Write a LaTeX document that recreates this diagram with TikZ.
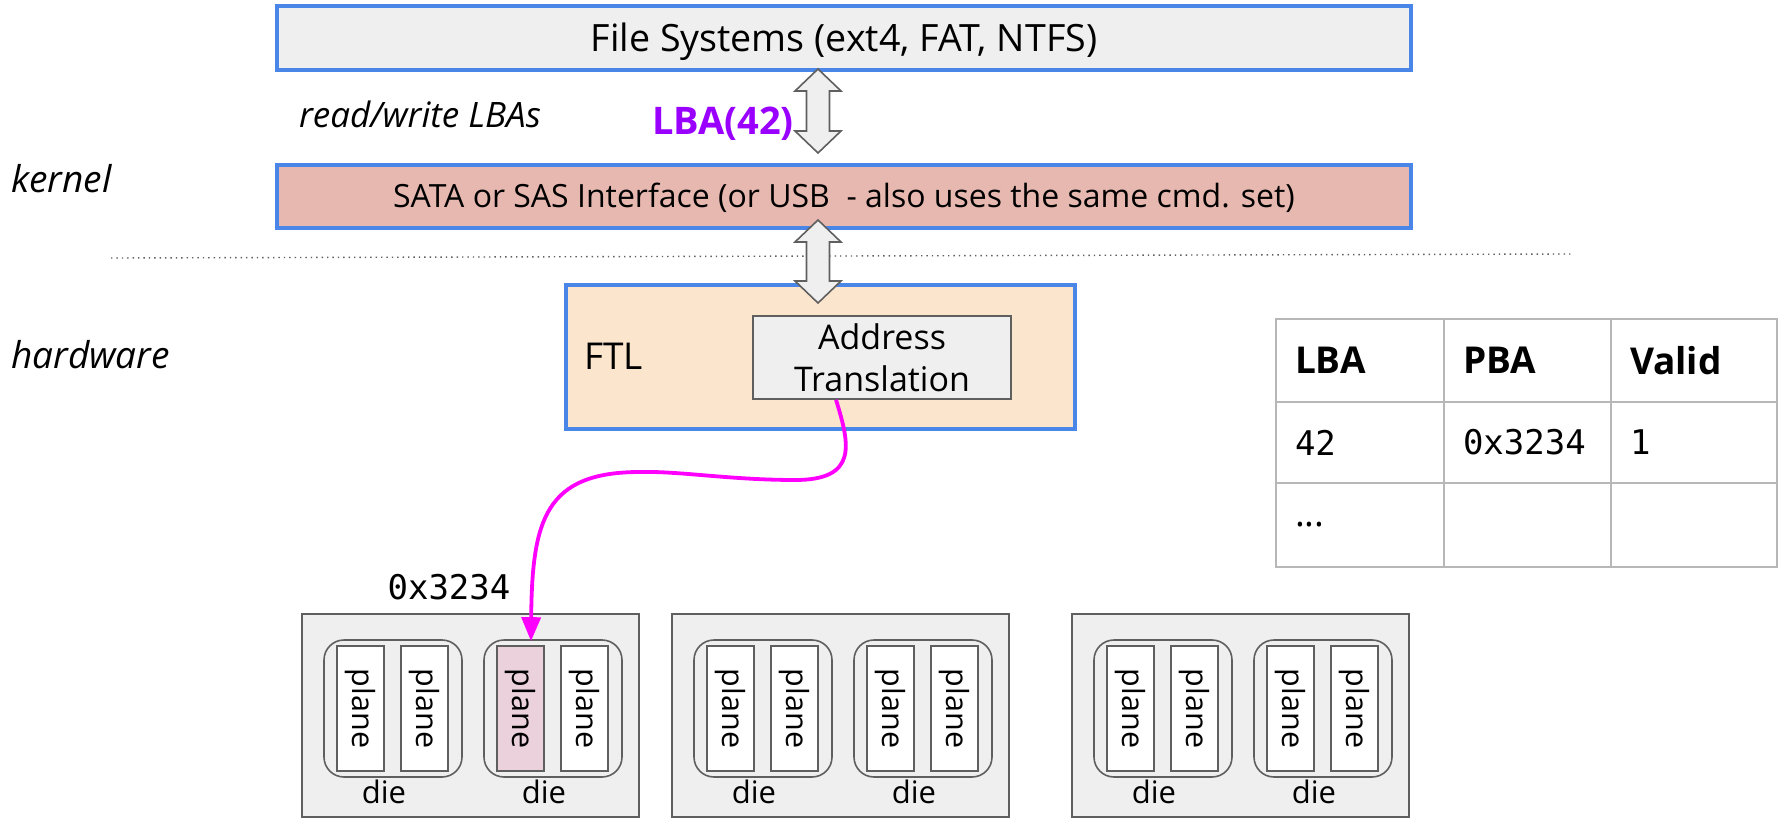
\documentclass[tikz,border=0pt]{standalone}
\usepackage{fontspec}
\setmainfont{Open Sans}
\setmonofont{DejaVu Sans Mono}
\usetikzlibrary{arrows.meta,calc}
\definecolor{blueb}{HTML}{4A86E8}
\definecolor{boxgray}{HTML}{EFEFEF}
\definecolor{satafill}{HTML}{E6B8AF}
\definecolor{ftlfill}{HTML}{FCE5CD}
\definecolor{linegray}{HTML}{5F5F5F}
\definecolor{tablegray}{HTML}{B7B7B7}
\definecolor{lbapurple}{HTML}{9900FF}
\definecolor{magentaline}{HTML}{FF00FF}
\definecolor{pinkfill}{HTML}{EAD1DC}
\newcommand\fsz[1]{\fontsize{#1}{#1}\selectfont}
\newcommand\udarrow[2]{%
  \draw[dblarrow] (#1) -- ++(23,22) -- ++(-11.5,0) -- ++(0,#2-44) -- ++(11.5,0) -- ++(-23,22)
    -- ++(-23,-22) -- ++(11.5,0) -- ++(0,-#2+44) -- ++(-11.5,0) -- cycle;}
\begin{document}
\begin{tikzpicture}[x=1pt,y=-1pt,
  bluebox/.style={draw=blueb, line width=3.5pt, inner sep=0pt},
  graybox/.style={draw=linegray, line width=1.6pt, inner sep=0pt},
  dblarrow/.style={draw=linegray, fill=boxgray, line width=1.6pt, line join=miter},
  sidelabel/.style={font=\fsz{37}\itshape, anchor=base west, inner sep=0pt},
  cell/.style={draw=tablegray, line width=1.6pt, inner xsep=19pt, inner ysep=0pt, align=left},
  pkgbox/.style={draw=linegray, fill=boxgray, line width=1.6pt, inner sep=0pt},
  diebox/.style={draw=linegray, line width=1.6pt, rounded corners=20pt, inner sep=0pt,
                 minimum width=138pt, minimum height=137pt},
  planebox/.style={draw=linegray, line width=1.6pt, inner sep=0pt, rotate=-90,
                   minimum width=125pt, minimum height=47pt, font=\fsz{30.5}},
  dietext/.style={font=\fsz{31}, inner sep=0pt, anchor=base},
  mapline/.style={draw=magentaline, line width=3.8pt, -{Triangle[length=24pt,width=19pt]}},
  sepline/.style={draw=linegray, line width=1.4pt, dash pattern=on 1.4pt off 4pt}
]
\path[fill=white, use as bounding box] (0,0) rectangle (1786,818);

% separator
\coordinate (sepl) at (111,258);
\coordinate (sepr) at (1572,254);
\draw[sepline] (sepl) -- (sepr);

% side labels
\node[sidelabel] (kernel) at (11,193) {kernel};
\node[sidelabel] (hardware) at (11,368) {hardware};
\node[font=\fsz{35}\itshape, anchor=base, inner sep=0pt] (rw) at (420,128) {read/write LBAs};
\node[font=\fsz{38}\bfseries, text=lbapurple, anchor=base, inner sep=0pt] (lba) at (723,135) {LBA(42)};

% top boxes
\node[bluebox, fill=boxgray, minimum width=1134pt, minimum height=64pt,
      text height=28pt, text depth=0pt, font=\fsz{37.6}] (fs) at (844,38) {File Systems (ext4, FAT, NTFS)};
\node[bluebox, fill=satafill, minimum width=1134pt, minimum height=63pt,
      text height=23pt, text depth=0pt, font=\fsz{32}] (sata) at (844,196.5)
      {SATA or SAS Interface (or USB\ \ - also uses the same cmd. set)};

% FTL
\node[bluebox, fill=ftlfill, minimum width=509pt, minimum height=144pt] (ftl) at (820.5,357) {};
\node[font=\fsz{37}, anchor=base west, inner sep=0pt] (ftltext) at (584,370) {FTL};
\node[graybox, fill=boxgray, minimum width=258pt, minimum height=83pt, align=center,
      font=\fontsize{34}{42}\selectfont] (at) at (882,357.5) {Address\\Translation};

% double arrows
\coordinate (a1t) at (818,69);
\coordinate (a2t) at (818,220);
\udarrow{a1t}{84}
\udarrow{a2t}{83}

% table
\node[cell, minimum width=168pt, minimum height=83pt, text width=130pt, font=\fsz{37}\bfseries] (t11) at (1360,360.5) {LBA};
\node[cell, minimum width=167pt, minimum height=83pt, text width=129pt, font=\fsz{37}\bfseries] (t12) at (1527.5,360.5) {PBA};
\node[cell, minimum width=166pt, minimum height=83pt, text width=128pt, font=\fsz{37}\bfseries] (t13) at (1694,360.5) {Valid};
\node[cell, minimum width=168pt, minimum height=81pt, text width=130pt, font=\fsz{34}\ttfamily] (t21) at (1360,442.5) {42};
\node[cell, minimum width=167pt, minimum height=81pt, text width=129pt, font=\fsz{34}\ttfamily] (t22) at (1527.5,442.5) {0x3234};
\node[cell, minimum width=166pt, minimum height=81pt, text width=128pt, font=\fsz{34}\ttfamily] (t23) at (1694,442.5) {1};
\node[cell, minimum width=168pt, minimum height=84pt, text width=130pt, font=\fsz{37}] (t31) at (1360,525) {...};
\node[cell, minimum width=167pt, minimum height=84pt, text width=129pt] (t32) at (1527.5,525) {};
\node[cell, minimum width=166pt, minimum height=84pt, text width=128pt] (t33) at (1694,525) {};

% packages
\foreach \L/\n in {301/1,671/2,1071/3}{
  \node[pkgbox, minimum width=337pt, minimum height=203pt] (pkg\n) at (\L+169.5,715.5) {};
  \foreach \dx/\d in {23/1,183/2}{
    \node[diebox] (die\n\d) at (\L+\dx+69,708.5) {};
    \node[dietext] (dl\n\d) at (\L+\dx+60,803) {die};
    \foreach \px/\p in {13/1,77/2}{
      \pgfmathtruncatemacro\pk{(\n==1)&&(\d==2)&&(\p==1)}
      \ifnum\pk=1 \def\pf{pinkfill}\else\def\pf{white}\fi
      \node[planebox, fill=\pf] (pl\n\d\p) at (\L+\dx+\px+23.5,708.5) {plane};
    }
  }
}

\node[font=\fsz{34}\ttfamily, anchor=base, inner sep=0pt] (addr) at (449,599) {0x3234};

% mapping connector
\draw[mapline] ($(at.south)+(-46,0)$) .. controls (850,445) and (858,480) .. (795,480)
   .. controls (730,480) and (680,471) .. (640,472)
   .. controls (545,472) and (532,520) .. ($(pl121.west)+(10.5,-4)$);
\end{tikzpicture}
\end{document}
